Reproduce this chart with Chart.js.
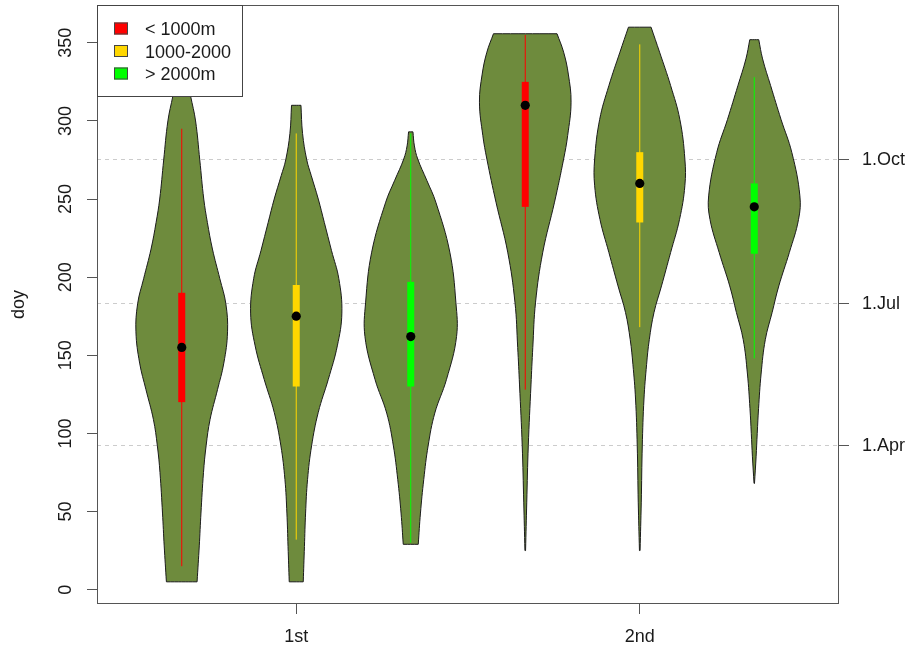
<!DOCTYPE html>
<html>
<head>
<meta charset="utf-8">
<script src="https://cdn.jsdelivr.net/npm/chart.js@4.4.1/dist/chart.umd.min.js"></script>
<style>
  html, body { margin: 0; padding: 0; background: #ffffff; }
  #wrap { width: 910px; height: 650px; position: relative; }
</style>
</head>
<body>
<div id="wrap"><canvas id="c"></canvas></div>
<script>
// ---------------- data ----------------
const groupLabels = ['< 1000m', '1000-2000', '> 2000m'];
const groupColors = ['#FF0000', '#FFD700', '#00FF00'];
const xTickPositions = [2, 5];
const xTickLabels = ['1st', '2nd'];
const yTickValues = [0, 50, 100, 150, 200, 250, 300, 350];
const rightTickValues = [92, 183, 275];
const rightTickLabels = ['1.Apr', '1.Jul', '1.Oct'];

const violinPositions = [1, 2, 3, 4, 5, 6];
const violinGroup = [0, 1, 2, 0, 1, 2];

// density profiles (doy levels and relative half widths)
const levels1 = [5, 28, 49, 75, 92, 109, 128, 145, 165, 183, 199, 218, 235, 250, 275, 300, 316, 328];
const dens1   = [0.335, 0.383, 0.42, 0.475, 0.532, 0.619, 0.781, 0.919, 1.0, 0.963, 0.832, 0.67, 0.56, 0.481, 0.394, 0.302, 0.193, 0.11];
const levels2 = [5, 27.6, 49, 70.5, 92, 113.5, 134.6, 156, 177, 199, 217, 235, 250, 265, 275, 292, 310];
const dens2   = [0.153, 0.179, 0.204, 0.247, 0.335, 0.481, 0.70, 0.897, 0.996, 0.93, 0.77, 0.613, 0.481, 0.328, 0.23, 0.138, 0.103];
const levels3 = [29, 49, 70.5, 92, 113, 134.6, 162, 184, 216, 248, 262, 275.6, 284, 293];
const dens3   = [0.164, 0.212, 0.284, 0.379, 0.525, 0.781, 1.0, 0.985, 0.853, 0.547, 0.35, 0.153, 0.08, 0.048];
const levels4 = [25, 56, 92, 131, 155, 184, 216, 248, 275.6, 290.6, 312, 330, 344, 355.8];
const dens4   = [0.007, 0.033, 0.066, 0.125, 0.165, 0.225, 0.383, 0.639, 0.838, 0.926, 1.0, 0.94, 0.838, 0.694];
const levels5 = [25, 56, 92, 122, 144, 160, 177.4, 194.4, 215.8, 237, 258.5, 275.6, 301, 322.6, 344, 360];
const dens5   = [0.007, 0.033, 0.055, 0.092, 0.149, 0.208, 0.311, 0.475, 0.674, 0.869, 0.985, 0.985, 0.875, 0.674, 0.433, 0.247];
const levels6 = [68, 85, 100, 116, 138, 160, 177.4, 194.4, 215.8, 237, 252, 279.7, 301, 322.6, 339.7, 352];
const dens6   = [0.005, 0.04, 0.065, 0.094, 0.149, 0.241, 0.39, 0.536, 0.766, 0.967, 0.996, 0.821, 0.584, 0.357, 0.182, 0.098];

const whiskerLow  = [15, 32, 30, 128, 168, 148];
const whiskerHigh = [295, 292, 292, 355, 349, 328];
const quart1      = [120, 130, 130, 245, 235, 215];
const quart3      = [190, 195, 197, 325, 280, 260];
const medians     = [155, 175, 162, 310, 260, 245];

// ---------------- chart building ----------------
const levelSets = [levels1, levels2, levels3, levels4, levels5, levels6];
const densSets = [dens1, dens2, dens3, dens4, dens5, dens6];
const HALF_MAX = 0.4;       // x-units of the widest half violin
const X_MIN = 0.26, X_MAX = 6.74, Y_MIN = -9.2, Y_MAX = 374.2;
const FONT = "'Liberation Sans', Arial, Helvetica, sans-serif";
const TEXT = '#1a1a1a';
const AXIS = '#555555';

function violinOutline(center, lev, den) {
  const left = lev.map((v, i) => ({ x: center - den[i] * HALF_MAX, y: v }));
  const right = lev.map((v, i) => ({ x: center + den[i] * HALF_MAX, y: v })).reverse();
  // repeat the end points so the flat ends keep sharp corners
  const l = [left[0]].concat(left, [left[left.length - 1]]);
  const r = [right[0]].concat(right, [right[right.length - 1]]);
  return l.concat(r, [left[0]]);
}

const datasets = [];
datasets.push({
  type: 'scatter', order: 0,
  data: violinPositions.map((p, i) => ({ x: p, y: medians[i] })),
  pointRadius: 4.6, pointBackgroundColor: '#000', pointBorderColor: '#000', pointBorderWidth: 0,
  showLine: false
});
violinPositions.forEach((p, i) => {
  const col = groupColors[violinGroup[i]];
  datasets.push({
    type: 'line', order: 1,
    data: [{ x: p, y: quart1[i] }, { x: p, y: quart3[i] }],
    borderColor: col, borderWidth: 7, borderCapStyle: 'butt', pointRadius: 0, fill: false
  });
  datasets.push({
    type: 'line', order: 2,
    data: [{ x: p, y: whiskerLow[i] }, { x: p, y: whiskerHigh[i] }],
    borderColor: col, borderWidth: 1, pointRadius: 0, fill: false
  });
  datasets.push({
    type: 'line', order: 3,
    data: violinOutline(p, levelSets[i], densSets[i]),
    borderColor: '#1b1b1b', borderWidth: 1, backgroundColor: '#6E8B3D',
    fill: 'shape', tension: 0.4, pointRadius: 0
  });
});

const decorPlugin = {
  id: 'decor',
  afterDraw(chart) {
    const ctx = chart.ctx;
    const a = chart.chartArea;
    const ys = chart.scales.y;
    ctx.save();
    ctx.strokeStyle = AXIS; ctx.lineWidth = 1;
    ctx.strokeRect(Math.round(a.left) + 0.5, Math.round(a.top) + 0.5,
                   Math.round(a.right - a.left) - 1, Math.round(a.bottom - a.top) - 1);
    ctx.fillStyle = TEXT;
    ctx.font = '18px ' + FONT;
    ctx.textAlign = 'center';
    ctx.textBaseline = 'alphabetic';
    yTickValues.forEach(v => {
      const py = ys.getPixelForValue(v);
      ctx.save(); ctx.translate(70.5, py); ctx.rotate(-Math.PI / 2);
      ctx.fillText(String(v), 0, 0); ctx.restore();
    });
    ctx.save(); ctx.translate(24, (a.top + a.bottom) / 2); ctx.rotate(-Math.PI / 2);
    ctx.fillText('doy', 0, 0); ctx.restore();
    const lx = 97, ly = 5, lw = 146, lh = 92;
    ctx.fillStyle = '#ffffff';
    ctx.fillRect(lx, ly, lw, lh);
    ctx.strokeStyle = '#444';
    ctx.strokeRect(lx + 0.5, ly + 0.5, lw - 1, lh - 1);
    ctx.textAlign = 'left'; ctx.textBaseline = 'middle';
    groupLabels.forEach((lab, i) => {
      const cy = 29.5 + i * 22.5;
      ctx.fillStyle = groupColors[i];
      ctx.fillRect(114, cy - 7, 14, 12);
      ctx.strokeStyle = '#444';
      ctx.strokeRect(114.5, cy - 6.5, 13, 11);
      ctx.fillStyle = TEXT;
      ctx.fillText(lab, 145, cy + 1);
    });
    ctx.restore();
  }
};

function zeroPad(s) { s.paddingTop = 0; s.paddingBottom = 0; s.paddingLeft = 0; s.paddingRight = 0; }

new Chart(document.getElementById('c'), {
  type: 'line',
  data: { datasets },
  options: {
    responsive: true, maintainAspectRatio: false, animation: false,
    layout: { padding: { top: 5, left: 0, right: 0, bottom: 0 } },
    plugins: { legend: { display: false }, tooltip: { enabled: false } },
    scales: {
      x: {
        type: 'linear', position: 'bottom', min: X_MIN, max: X_MAX,
        afterBuildTicks: s => { s.ticks = xTickPositions.map(v => ({ value: v })); },
        afterFit: s => { s.height = 46; zeroPad(s); },
        grid: { display: true, drawOnChartArea: false, drawTicks: true, tickLength: 10, tickColor: AXIS },
        border: { display: false },
        ticks: { font: { family: FONT, size: 18 }, color: TEXT, padding: 12, maxRotation: 0,
                 callback: (v, i) => xTickLabels[i] }
      },
      y: {
        type: 'linear', position: 'left', min: Y_MIN, max: Y_MAX,
        afterBuildTicks: s => { s.ticks = yTickValues.map(v => ({ value: v })); },
        afterFit: s => { s.width = 97; zeroPad(s); },
        grid: { display: true, drawOnChartArea: false, drawTicks: true, tickLength: 10, tickColor: AXIS },
        border: { display: false },
        ticks: { display: false }
      },
      yr: {
        type: 'linear', position: 'right', min: Y_MIN, max: Y_MAX,
        afterBuildTicks: s => { s.ticks = rightTickValues.map(v => ({ value: v })); },
        afterFit: s => { s.width = 71; zeroPad(s); },
        grid: { display: true, drawOnChartArea: true, color: '#cccccc',
                drawTicks: true, tickLength: 10, tickColor: AXIS, tickBorderDash: [1, 0] },
        border: { display: false, dash: [4, 4] },
        ticks: { font: { family: FONT, size: 18 }, color: TEXT, padding: 13,
                 callback: (v, i) => rightTickLabels[i] }
      }
    }
  },
  plugins: [decorPlugin]
});
</script>
</body>
</html>
